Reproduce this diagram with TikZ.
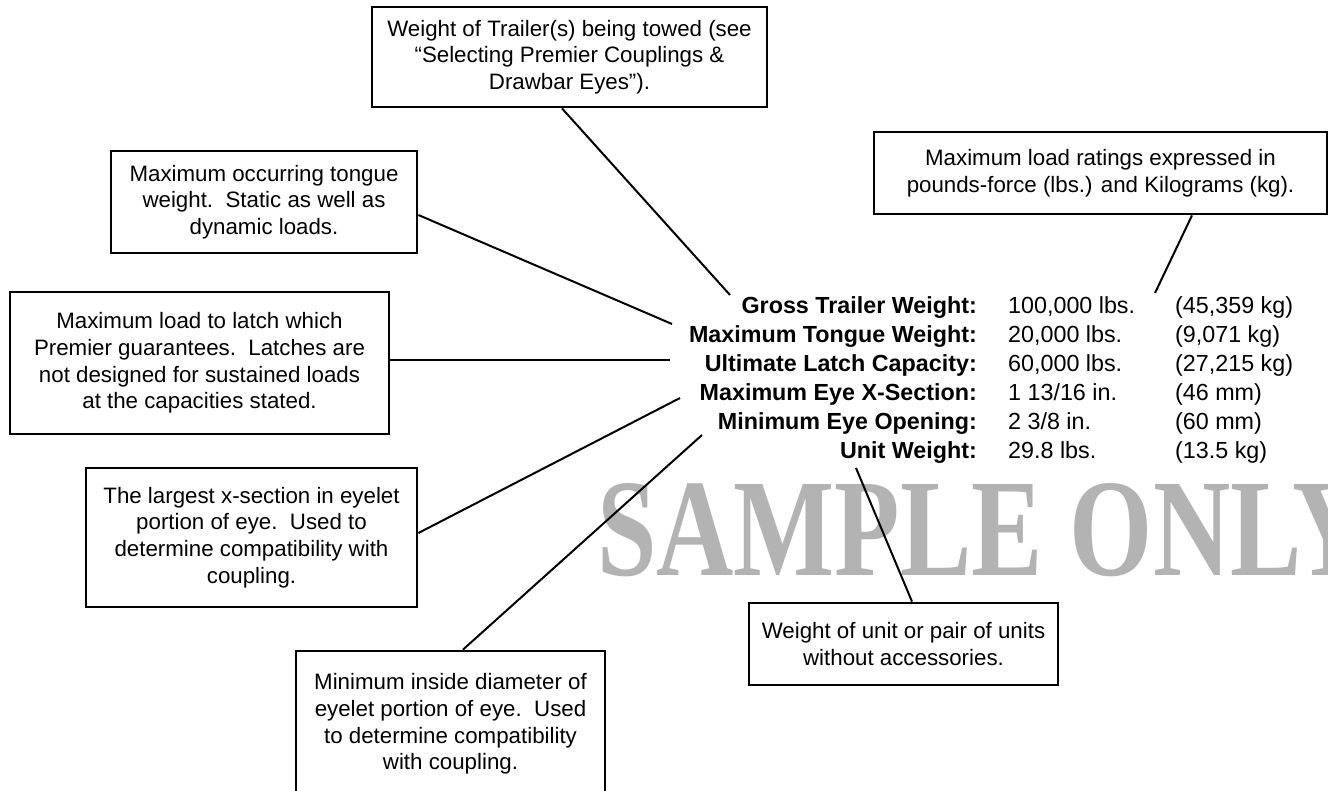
\documentclass[tikz,border=0pt]{standalone}
\usepackage{fontspec}
\setmainfont{Liberation Sans}
\newfontfamily\wmfont{Liberation Serif}
\definecolor{wmgray}{RGB}{179,179,179}
\begin{document}
\begin{tikzpicture}[x=1pt,y=-1pt,
  box/.style={draw, line width=2.8pt, align=center, inner sep=0pt, font=\fontsize{22.3}{26.6}\selectfont},
  lbl/.style={inner sep=0pt, font=\fontsize{23.3}{28}\selectfont\bfseries},
  val/.style={inner sep=0pt, font=\fontsize{23.3}{28}\selectfont},
  conn/.style={line width=2pt}]
\fill[white] (0,0) rectangle (1328,791);
\clip (0,0) rectangle (1328,791);
% watermark
\node[text=wmgray, font=\wmfont\bfseries\fontsize{139}{139}\selectfont, xscale=0.77, anchor=base west, inner sep=0pt] (wm) at (597,575) {SAMPLE ONLY};
% boxes
\node[box, minimum width=395pt, minimum height=100pt] (b1) at (569.5,57) {Weight of Trailer(s) being towed (see\\“Selecting Premier Couplings \&\\Drawbar Eyes”).};
\node[box, minimum width=306pt, minimum height=102pt] (b2) at (264,202) {Maximum occurring tongue\\weight.\ \ Static as well as\\dynamic loads.};
\node[box, minimum width=379pt, minimum height=142pt] (b3) at (199.5,363) {Maximum load to latch which\\Premier guarantees.\ \ Latches are\\not designed for sustained loads\\at the capacities stated.};
\node[box, minimum width=331pt, minimum height=139pt] (b4) at (251.5,537.5) {The largest x-section in eyelet\\portion of eye.\ \ Used to\\determine compatibility with\\coupling.};
\node[box, minimum width=309pt, minimum height=146pt] (b5) at (450.5,724) {Minimum inside diameter of\\eyelet portion of eye.\ \ Used\\to determine compatibility\\with coupling.};
\node[box, minimum width=309pt, minimum height=82pt] (b6) at (903.5,644) {Weight of unit or pair of units\\without accessories.};
\node[box, minimum width=453pt, minimum height=82pt] (b7) at (1100.5,173) {Maximum load ratings expressed in\\pounds-force (lbs.) and Kilograms (kg).};
% table
\node[lbl, anchor=base east] (l1) at (977,314) {Gross Trailer Weight:};
\node[lbl, anchor=base east] (l2) at (977,342.8) {Maximum Tongue Weight:};
\node[lbl, anchor=base east] (l3) at (977,371.6) {Ultimate Latch Capacity:};
\node[lbl, anchor=base east] (l4) at (977,400.4) {Maximum Eye X-Section:};
\node[lbl, anchor=base east] (l5) at (977,429.2) {Minimum Eye Opening:};
\node[lbl, anchor=base east] (l6) at (977,458) {Unit Weight:};
\node[val, anchor=base west] (v1) at (1008,314) {100,000 lbs.};
\node[val, anchor=base west] (v2) at (1008,342.8) {20,000 lbs.};
\node[val, anchor=base west] (v3) at (1008,371.6) {60,000 lbs.};
\node[val, anchor=base west] (v4) at (1008,400.4) {1 13/16 in.};
\node[val, anchor=base west] (v5) at (1008,429.2) {2 3/8 in.};
\node[val, anchor=base west] (v6) at (1008,458) {29.8 lbs.};
\node[val, anchor=base west] (k1) at (1175,314) {(45,359 kg)};
\node[val, anchor=base west] (k2) at (1175,342.8) {(9,071 kg)};
\node[val, anchor=base west] (k3) at (1175,371.6) {(27,215 kg)};
\node[val, anchor=base west] (k4) at (1175,400.4) {(46 mm)};
\node[val, anchor=base west] (k5) at (1175,429.2) {(60 mm)};
\node[val, anchor=base west] (k6) at (1175,458) {(13.5 kg)};
% connector ends
\coordinate (e1) at (730,295);
\coordinate (e2) at (672,324);
\coordinate (e3) at (670,360);
\coordinate (e4) at (680,398);
\coordinate (e5) at (702,435);
\coordinate (e6) at (856,468);
\coordinate (e7) at (1155,293);
\draw[conn] ([xshift=-7.5pt]b1.south) -- (e1);
\draw[conn] ([yshift=-13pt]b2.east) -- (e2);
\draw[conn] ([yshift=3pt]b3.east) -- (e3);
\draw[conn] ([yshift=4.5pt]b4.east) -- (e4);
\draw[conn] ([xshift=12.5pt]b5.north) -- (e5);
\draw[conn] ([xshift=8.5pt]b6.north) -- (e6);
\draw[conn] ([xshift=91.5pt]b7.south) -- (e7);
\end{tikzpicture}
\end{document}
